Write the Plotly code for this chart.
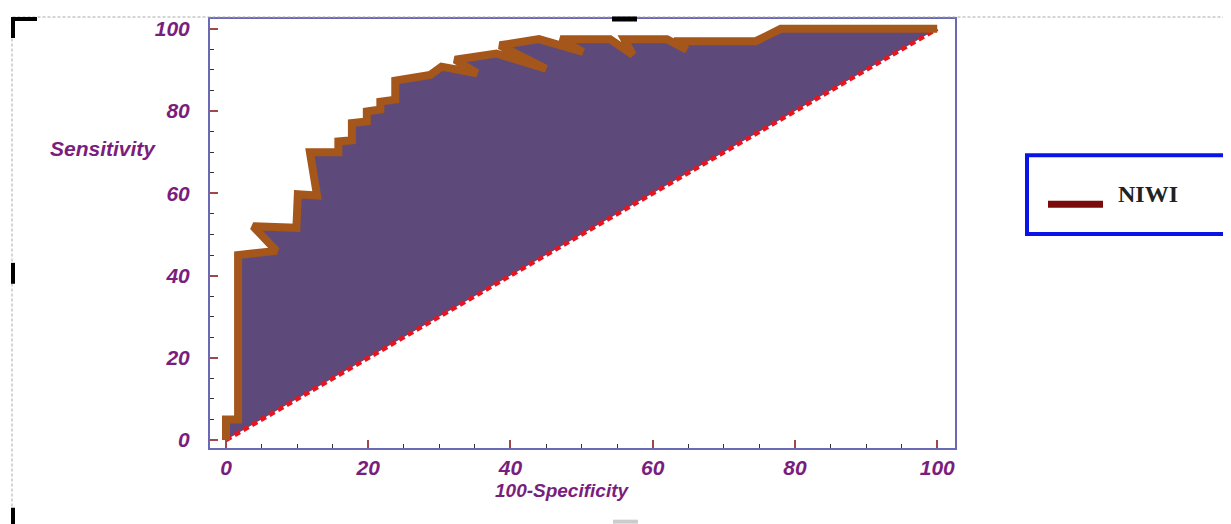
import plotly.graph_objects as go

# ROC curve (100-Specificity, Sensitivity)
fpr = [0, 0, 1.7, 1.7, 7.1, 3.8, 9.9, 10.1, 12.8, 11.8, 15.8, 15.8, 17.7, 17.7,
       19.8, 19.8, 21.7, 21.7, 23.8, 23.8, 28.7, 30.3, 35.3, 32.2, 38.0, 45.0,
       38.5, 44.0, 50.2, 47.0, 54.0, 57.2, 56.0, 62.0, 64.8, 63.0, 74.5, 78.0, 100]
tpr = [0, 5, 5, 45, 46, 52, 51.6, 59.8, 59.5, 70, 70, 72.6, 72.9, 77.1,
       77.5, 79.9, 80.4, 82.3, 82.8, 87.4, 88.8, 90.8, 89.2, 92.5, 94.0, 90.3,
       96.0, 97.5, 94.4, 97.5, 97.5, 93.7, 97.5, 97.5, 94.9, 97.0, 97.0, 100, 100]
ref_x = [0, 100]
ref_y = [0, 100]
series_name = "NIWI"
tick_vals = [0, 20, 40, 60, 80, 100]
x_title = "100-Specificity"
y_title = "Sensitivity"

# plot area in window pixels (page body has an 8px margin)
OFF = 8
L, R, T, B = 210, 955, 17, 448
W, H = 1231 - OFF, 524 - OFF


def px(xw):
    return (xw - L) / (R - L)


def py(yw):
    return (B - yw) / (B - T)


fig = go.Figure()
fig.add_trace(go.Scatter(x=fpr, y=tpr, fill="toself", fillcolor="#5E4A7A",
                         mode="lines", line=dict(width=0), showlegend=False,
                         hoverinfo="skip"))
fig.add_trace(go.Scatter(x=ref_x, y=ref_y, mode="lines",
                         line=dict(color="#E8141E", width=4.5, dash="6px,4px"),
                         showlegend=False))
fig.add_trace(go.Scatter(x=fpr, y=tpr, mode="lines", name=series_name,
                         line=dict(color="#A5561A", width=8), showlegend=False))

tickfont = dict(family="Liberation Sans", size=21, color="#7A1E7E",
                weight="bold", style="italic")
axis_common = dict(showgrid=False, zeroline=False, showline=True, mirror=True,
                   linecolor="#6A6AB4", linewidth=2, ticks="inside", ticklen=8,
                   tickwidth=1.5, tickcolor="#A04848", tickvals=tick_vals,
                   tickfont=tickfont,
                   minor=dict(dtick=5, ticks="inside", ticklen=4,
                              tickcolor="#333333", tickwidth=1.2))

fig.update_xaxes(range=[-2.25, 102.5], ticklabelstandoff=0, **axis_common)
fig.update_yaxes(range=[-1.94, 102.4], ticklabelstandoff=14, **axis_common)

fig.add_annotation(text=y_title, x=px(103), y=py(147), xref="paper",
                   yref="paper", showarrow=False, xanchor="center",
                   yanchor="middle",
                   font=dict(family="Liberation Sans", size=21, color="#7A1E7E",
                             weight="bold", style="italic"))
fig.add_annotation(text=x_title, x=px(562), y=py(491), xref="paper",
                   yref="paper", showarrow=False, xanchor="center",
                   yanchor="middle",
                   font=dict(family="Liberation Sans", size=19, color="#7A1E7E",
                             weight="bold", style="italic"))
# legend entry text
fig.add_annotation(text=series_name, x=px(1116), y=py(193), xref="paper",
                   yref="paper", showarrow=False, xanchor="left",
                   yanchor="middle",
                   font=dict(family="Liberation Serif", size=24, color="#222222",
                             weight="bold"))

shapes = [
    # dotted selection frame
    dict(type="rect", xref="paper", yref="paper", x0=px(12), x1=px(1260),
         y0=py(560), y1=py(15), line=dict(color="#AAAAAA", width=1, dash="3px,2px")),
    # legend box
    dict(type="rect", xref="paper", yref="paper", x0=px(1027), x1=px(1250),
         y0=py(233), y1=py(154), line=dict(color="#0A14E6", width=4)),
    # legend line sample
    dict(type="line", xref="paper", yref="paper", x0=px(1048), x1=px(1103),
         y0=py(203), y1=py(203), line=dict(color="#7B0B0B", width=7)),
    # handles
    dict(type="path", xref="paper", yref="paper",
         path=f"M {px(13)} {py(36)} L {px(13)} {py(17)} L {px(37)} {py(17)}",
         line=dict(color="black", width=4)),
    dict(type="line", xref="paper", yref="paper", x0=px(612), x1=px(637),
         y0=py(17), y1=py(17), line=dict(color="black", width=5)),
    dict(type="line", xref="paper", yref="paper", x0=px(13), x1=px(13),
         y0=py(262), y1=py(283), line=dict(color="black", width=4)),
    dict(type="line", xref="paper", yref="paper", x0=px(13), x1=px(13),
         y0=py(508), y1=py(526), line=dict(color="black", width=4)),
    dict(type="line", xref="paper", yref="paper", x0=px(613), x1=px(638),
         y0=py(522), y1=py(522), line=dict(color="#CCCCCC", width=4)),
]

fig.update_layout(
    width=W, height=H,
    margin=dict(l=L - OFF, r=1231 - R, t=T - OFF, b=524 - B),
    paper_bgcolor="white", plot_bgcolor="white",
    shapes=shapes,
    showlegend=False,
)

fig.write_html("out.html")
